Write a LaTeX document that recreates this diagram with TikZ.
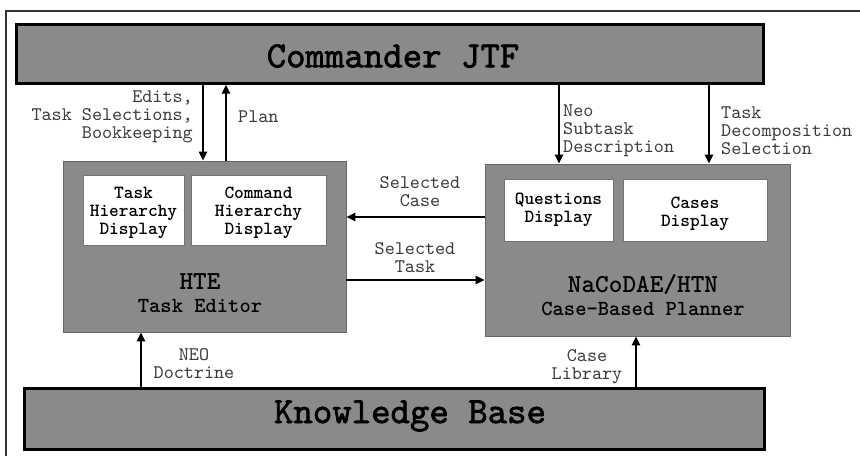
\documentclass[tikz,border=0pt]{standalone}
\usepackage{fontspec}
\usetikzlibrary{arrows.meta}
\setmonofont{lmmono10-regular.otf}[BoldFont=lmmonolt10-bold.otf]
\newfontfamily\monobig{lmmono10-regular.otf}[FakeBold=1.8]
\definecolor{boxgray}{HTML}{8A8A8A}
\definecolor{labgray}{HTML}{3A3A3A}
\begin{document}
\begin{tikzpicture}[x=1pt,y=-1pt,
  bigbox/.style={draw=black,line width=3pt,fill=boxgray,minimum width=#1,inner sep=0pt},
  subsys/.style={draw=black!60,line width=0.6pt,fill=boxgray,inner sep=0pt},
  inbox/.style={draw=black!55,line width=0.8pt,fill=white,inner sep=0pt},
  bigtxt/.style={font=\monobig\fontsize{37}{38}\selectfont,inner sep=0pt},
  intxt/.style={font=\ttfamily\bfseries\fontsize{18.5}{18.2}\selectfont,align=center,inner sep=0pt},
  ttl/.style={font=\ttfamily\bfseries\fontsize{26}{26}\selectfont,inner sep=0pt},
  subttl/.style={font=\ttfamily\bfseries\fontsize{21.5}{22}\selectfont,inner sep=0pt},
  lab/.style={font=\ttfamily\fontsize{19.2}{18}\selectfont,text=labgray,inner sep=0pt},
  arr/.style={line width=2.4pt,-{Triangle[length=9pt,width=8pt]}}
]
\useasboundingbox (0,0) rectangle (860,456);
% frame
\coordinate (f1) at (6,456);
\coordinate (f2) at (6,11);
\coordinate (f3) at (860,11);
\draw[line width=1.4pt,black!80] (f1) -- (f2) -- (f3);

% big boxes
\node[bigbox=747pt,minimum height=59pt] (cmd) at (389.5,53.5) {};
\node[bigtxt] (cmdt) at (393,56) {Commander JTF};
\node[bigbox=740pt,minimum height=61pt] (kb) at (394,418.5) {};
\node[bigtxt] (kbt) at (410,416) {Knowledge Base};

% subsystems
\node[subsys,minimum width=283pt,minimum height=171pt] (hte) at (204.5,246.5) {};
\node[subsys,minimum width=305pt,minimum height=172pt] (nac) at (637.5,250) {};

\node[inbox,minimum width=101pt,minimum height=70pt] (thd) at (133.5,210) {};
\node[inbox,minimum width=135pt,minimum height=70pt] (chd) at (258.5,210) {};
\node[inbox,minimum width=109pt,minimum height=62pt] (qd) at (558.5,210) {};
\node[inbox,minimum width=144pt,minimum height=62pt] (cd) at (695,210) {};

\node[intxt] (thdt) at (133.5,213) {Task\\Hierarchy\\Display};
\node[intxt] (chdt) at (258.5,213) {Command\\Hierarchy\\Display};
\node[intxt] (qdt) at (558.5,210) {Questions\\Display};
\node[intxt] (cdt) at (695,214) {Cases\\Display};

\node[ttl] (htet) at (200,282) {HTE};
\node[subttl] (htes) at (200,306) {Task Editor};
\node[ttl] (nact) at (643,285) {NaCoDAE/HTN};
\node[subttl] (nacs) at (643,309) {Case-Based Planner};

% arrow x positions
\coordinate (xa) at (203,0);
\coordinate (xb) at (226,0);
\coordinate (xc) at (559,0);
\coordinate (xd) at (709,0);
\coordinate (xe) at (141,0);
\coordinate (xf) at (636,0);
\coordinate (ya) at (0,217);
\coordinate (yb) at (0,280);

\draw[arr] (cmd.south -| xa) -- (hte.north -| xa);
\draw[arr] (hte.north -| xb) -- (cmd.south -| xb);
\draw[arr] (cmd.south -| xc) -- (nac.north -| xc);
\draw[arr] (cmd.south -| xd) -- (nac.north -| xd);
\draw[arr] (nac.west |- ya) -- (hte.east |- ya);
\draw[arr] (hte.east |- yb) -- (nac.west |- yb);
\draw[arr] (kb.north -| xe) -- (hte.south -| xe);
\draw[arr] (kb.north -| xf) -- (nac.south -| xf);

% labels
\node[lab,align=right,anchor=east] (l1) at (193,117) {Edits,\\Task Selections,\\Bookkeeping};
\node[lab,anchor=west] (l2) at (238,117) {Plan};
\node[lab,align=left,anchor=west] (l3) at (563,131) {Neo\\Subtask\\Description};
\node[lab,align=left,anchor=west] (l4) at (721,131) {Task\\Decomposition\\Selection};
\node[lab,align=center] (l5) at (420,192) {Selected\\Case};
\node[lab,align=center] (l6) at (415,258) {Selected\\Task};
\node[lab,align=center] (l7) at (194,364) {NEO\\Doctrine};
\node[lab,align=center] (l8) at (587,367) {Case\\Library};
\end{tikzpicture}
\end{document}
